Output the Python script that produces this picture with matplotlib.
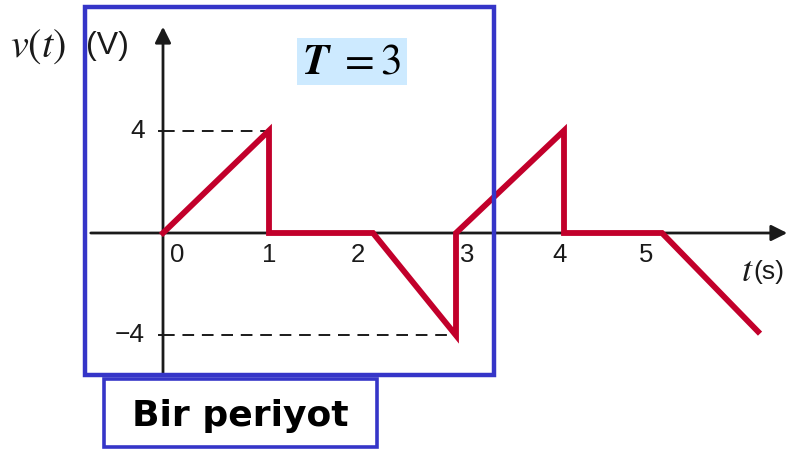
import matplotlib.pyplot as plt
from matplotlib.patches import Rectangle

plt.rcParams['mathtext.fontset'] = 'stix'

# waveform as drawn (t in s, v in V)
t_vals = [0, 1.06, 1.06, 2.1, 2.93, 2.93, 4.01, 4.01, 4.99, 5.95]
v_vals = [0, 4, 0, 0, -4, 0, 4, 0, 0, -3.85]
tick_labels = ['0', '1', '2', '3', '4', '5']
tick_pos = [0.14, 1.06, 1.95, 3.04, 3.97, 4.83]
level_labels = ['4', '\u22124']
levels = [4, -4]

# pixel -> data mapping (origin at px 163, 233)
sx, sy = 100.0, 25.6
def X(px):
    return (px - 163) / sx
def Y(py):
    return (233 - py) / sy

fig = plt.figure(figsize=(7.9, 4.49), dpi=100)
ax = fig.add_axes([0, 0, 1, 1])
ax.set_xlim(X(0), X(790))
ax.set_ylim(Y(449), Y(0))
ax.axis('off')

red = '#c2002b'
ink = '#1a1a1a'

# axes with arrows
ax.annotate('', xy=(X(790), 0), xytext=(X(88), 0),
            arrowprops=dict(arrowstyle='-|>', mutation_scale=24, lw=2, color=ink))
ax.annotate('', xy=(0, Y(24)), xytext=(0, Y(376)),
            arrowprops=dict(arrowstyle='-|>', mutation_scale=24, lw=2, color=ink))

# dashed guide lines and small ticks
ax.plot([0, t_vals[1]], [levels[0], levels[0]], ls=(0, (6, 4)), color=ink, lw=1.4)
ax.plot([0, t_vals[4]], [levels[1], levels[1]], ls=(0, (6, 4)), color=ink, lw=1.4)
for lv, lab in zip(levels, level_labels):
    ax.plot([X(159), 0], [lv, lv], color=ink, lw=1.4)
    ax.text(X(145), lv, lab, ha='right', va='center', fontsize=19,
            family='Liberation Sans', color=ink)

# waveform
ax.plot(t_vals, v_vals, color=red, lw=4.2, solid_joinstyle='miter', zorder=3)

# tick labels
for p, lab in zip(tick_pos, tick_labels):
    ax.text(p, Y(255), lab, ha='center', va='center', fontsize=18.5,
            family='Liberation Sans', color=ink)

# axis titles
ax.text(X(10), Y(46), r'$v(t)$', ha='left', va='center', fontsize=29, color=ink)
ax.text(X(86), Y(46), '(V)', ha='left', va='center', fontsize=23,
        family='Liberation Sans', color=ink)
ax.text(X(741), Y(271), r'$t$', ha='left', va='center', fontsize=26, color=ink)
ax.text(X(753), Y(272), '(s)', ha='left', va='center', fontsize=19,
        family='Liberation Sans', color=ink)

# period annotation
ax.add_patch(Rectangle((X(297), Y(85)), (407 - 297) / sx, 47 / sy,
                       fc='#cdeaff', ec='none', zorder=1))
ax.text(X(352), Y(61), r'$\mathbfit{T}\ = 3$', ha='center', va='center', fontsize=31,
        color='black', zorder=2)

blue = '#3535c8'
fig.patches.append(Rectangle((85 / 790, 1 - 375 / 449), 409 / 790, 368 / 449,
                             transform=fig.transFigure, fill=False, ec=blue, lw=3.2))
fig.patches.append(Rectangle((104 / 790, 1 - 447 / 449), 273 / 790, 68 / 449,
                             transform=fig.transFigure, fill=False, ec=blue, lw=2.6))
fig.text(240 / 790, 1 - 416 / 449, 'Bir periyot', ha='center', va='center',
         fontsize=26, fontweight='bold', family='DejaVu Sans', color='black')

fig.savefig('out.png', dpi=100)
